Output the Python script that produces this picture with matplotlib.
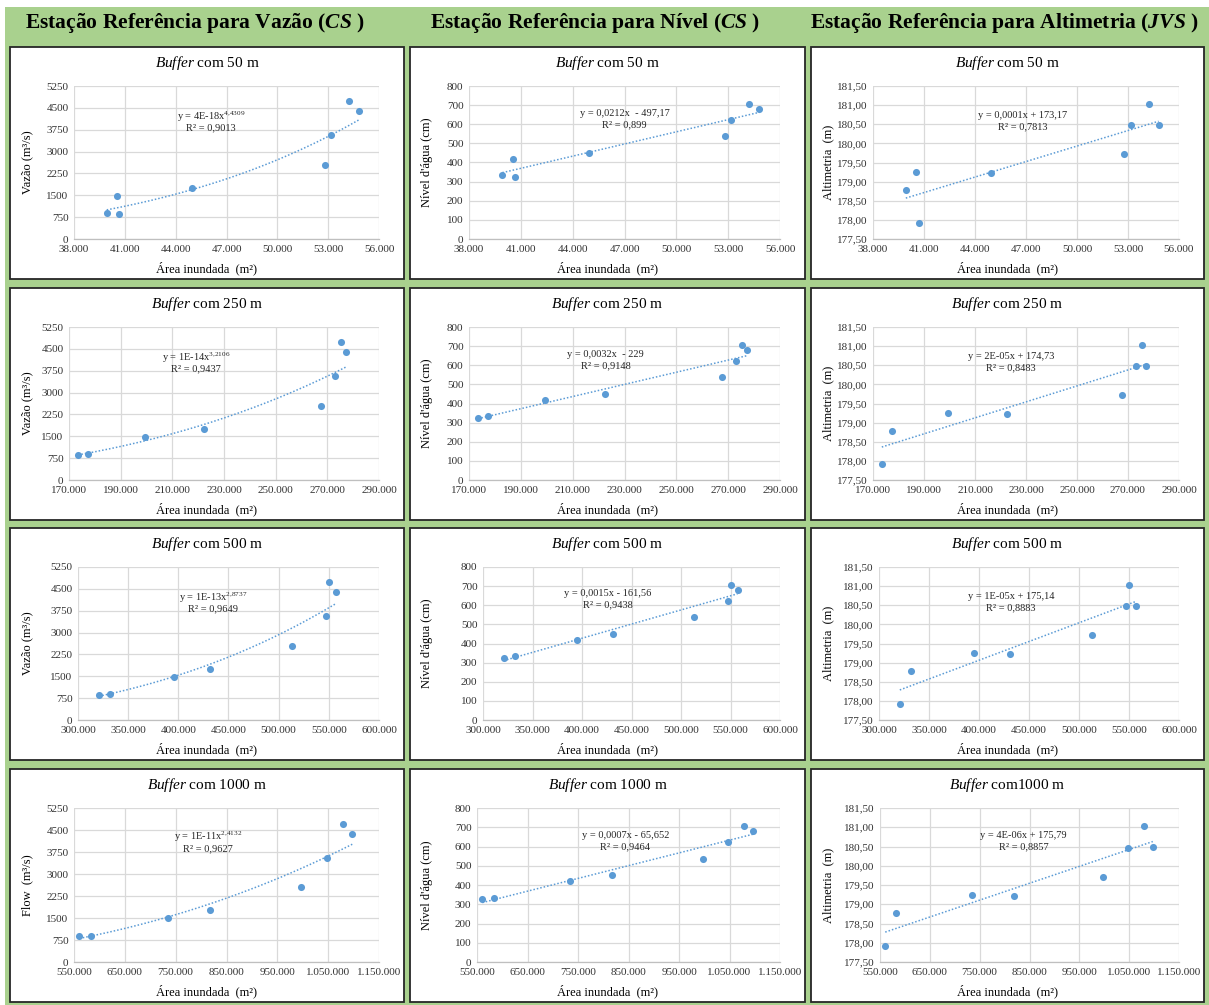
import matplotlib
matplotlib.use("Agg")
import matplotlib.pyplot as plt
import numpy as np
from matplotlib.patches import Rectangle
from matplotlib.ticker import FuncFormatter, FixedLocator

plt.rcParams["font.family"] = "Liberation Serif"
plt.rcParams["mathtext.fontset"] = "custom"
plt.rcParams["mathtext.rm"] = "Liberation Serif"
plt.rcParams["mathtext.it"] = "Liberation Serif:italic"
plt.rcParams["mathtext.bf"] = "Liberation Serif:bold"
plt.rcParams["mathtext.bfit"] = "Liberation Serif:italic:bold"

# values per station (same 8 stations in every panel)
vazao = [870, 900, 1490, 1760, 2540, 3560, 4720, 4380]
nivel = [325, 335, 420, 452, 537, 624, 707, 682]
altimetria = [177.91, 178.78, 179.25, 179.22, 179.72, 180.47, 181.04, 180.49]

# flooded area (m2) for each buffer
area_50 = [40680, 39930, 40530, 44940, 52790, 53150, 54230, 54800]
area_250 = [173450, 177400, 199400, 222400, 267700, 273100, 275300, 277200]
area_500 = [320800, 332100, 395400, 431200, 513300, 547400, 550100, 557100]
area_1000 = [560500, 582900, 735100, 818100, 997300, 1047400, 1079700, 1097400]

areas = [area_50, area_250, area_500, area_1000]
buffer_titles = [r"$\mathit{Buffer}$ com 50 m", r"$\mathit{Buffer}$ com 250 m",
                 r"$\mathit{Buffer}$ com 500 m", r"$\mathit{Buffer}$ com 1000 m"]
x_ranges = [(38000, 56000, 3000), (170000, 290000, 20000),
            (300000, 600000, 50000), (550000, 1150000, 100000)]

headers = [r"Estação Referência para Vazão ($\mathbfit{CS}$ )",
           r"Estação Referência para Nível ($\mathbfit{CS}$ )",
           r"Estação Referência para Altimetria ($\mathbfit{JVS}$ )"]
series = [vazao, nivel, altimetria]
y_ranges = [(0, 5250, 750), (0, 800, 100), (177.5, 181.5, 0.5)]
y_labels = [["Vazão (m³/s)", "Vazão (m³/s)", "Vazão (m³/s)", "Flow  (m³/s)"],
            ["Nível d'água (cm)"] * 4,
            ["Altimetria  (m)"] * 4]

equations = [
    [r"y = 4E-18x$^{4{,}4309}$", "y = 0,0212x  - 497,17", "y = 0,0001x + 173,17"],
    [r"y = 1E-14x$^{3{,}2106}$", "y = 0,0032x  - 229", "y = 2E-05x + 174,73"],
    [r"y = 1E-13x$^{2{,}8737}$", "y = 0,0015x - 161,56", "y = 1E-05x + 175,14"],
    [r"y = 1E-11x$^{2{,}4132}$", "y = 0,0007x - 65,652", "y = 4E-06x + 175,79"],
]
r2 = [["0,9013", "0,899", "0,7813"],
      ["0,9437", "0,9148", "0,8483"],
      ["0,9649", "0,9438", "0,8883"],
      ["0,9627", "0,9464", "0,8857"]]
last_title = r"$\mathit{Buffer}$ com1000 m"

W, H = 1209, 1005
BLUE = "#5b9bd5"
GREEN = "#a9d18e"

box_x = [(10, 404), (410, 805), (811, 1204)]
box_y = [(47, 279), (288, 520), (528, 760), (769, 1002)]
ax_left = [[74, 469, 873], [69, 469, 873], [78, 483, 879], [74, 477, 880]]
eq_pos = [[(0.45, 0.80), (0.50, 0.82), (0.49, 0.81)],
          [(0.41, 0.80), (0.44, 0.82), (0.45, 0.81)],
          [(0.45, 0.80), (0.42, 0.83), (0.44, 0.81)],
          [(0.44, 0.81), (0.49, 0.82), (0.48, 0.82)]]


def fx(x):
    return x / W


def fy(y):
    return 1 - y / H


fig = plt.figure(figsize=(W / 100, H / 100), dpi=100)
fig.patches.append(Rectangle((fx(5), 0), fx(W - 5), 1 - 7 / H, transform=fig.transFigure,
                             facecolor=GREEN, edgecolor="none", zorder=0))

hdr_x = [195, 595, 1004]
for c in range(3):
    fig.text(fx(hdr_x[c]), fy(23), headers[c], ha="center", va="center",
             fontsize=15.5, fontweight="bold")

x_fmt = FuncFormatter(lambda v, p: f"{int(round(v)):,}".replace(",", "."))
y_fmts = [FuncFormatter(lambda v, p: f"{int(round(v))}"),
          FuncFormatter(lambda v, p: f"{int(round(v))}"),
          FuncFormatter(lambda v, p: f"{v:.2f}".replace(".", ","))]

for r in range(4):
    for c in range(3):
        bx0, bx1 = box_x[c]
        by0, by1 = box_y[r]
        fig.patches.append(Rectangle((fx(bx0), fy(by1)), fx(bx1 - bx0), (by1 - by0) / H,
                                     transform=fig.transFigure, facecolor="white",
                                     edgecolor="#262626", linewidth=1.3, zorder=1))
        l = ax_left[r][c]
        rgt = bx1 - 25
        top = by0 + 39
        bot = by1 - 40
        ax = fig.add_axes([fx(l), fy(bot), fx(rgt - l), (bot - top) / H])
        ax.set_zorder(2)
        ax.patch.set_alpha(0)

        x = np.array(areas[r], dtype=float)
        y = np.array(series[c], dtype=float)
        xs = np.linspace(x.min(), x.max(), 200)
        if c == 0:
            b, loga = np.polyfit(np.log(x), np.log(y), 1)
            ys = np.exp(loga) * xs ** b
        else:
            m, k = np.polyfit(x, y, 1)
            ys = m * xs + k
        ax.plot(xs, ys, color=BLUE, linestyle=(0, (1, 1.3)), linewidth=1.1, zorder=3)
        ax.scatter(x, y, s=26, color=BLUE, zorder=4, linewidths=0)

        x0, x1, xst = x_ranges[r]
        y0, y1, yst = y_ranges[c]
        ax.set_xlim(x0, x1)
        ax.set_ylim(y0, y1)
        ax.xaxis.set_major_locator(FixedLocator(np.arange(x0, x1 + xst / 2, xst)))
        ax.yaxis.set_major_locator(FixedLocator(np.arange(y0, y1 + yst / 2, yst)))
        ax.xaxis.set_major_formatter(x_fmt)
        ax.yaxis.set_major_formatter(y_fmts[c])
        ax.grid(True, color="#d9d9d9", linewidth=0.9, zorder=0)
        ax.set_axisbelow(True)
        for s in ["top", "right", "left"]:
            ax.spines[s].set_visible(False)
        ax.spines["bottom"].set_color("#bfbfbf")
        ax.spines["bottom"].set_linewidth(0.9)
        ax.tick_params(length=0, labelsize=8, colors="#333333", pad=4)

        ax.text(eq_pos[r][c][0], eq_pos[r][c][1], equations[r][c], transform=ax.transAxes,
                ha="center", va="center", fontsize=7.5, color="#262626")
        ax.text(eq_pos[r][c][0], eq_pos[r][c][1] - 0.075, "R² = " + r2[r][c],
                transform=ax.transAxes, ha="center", va="center", fontsize=7.5,
                color="#262626")

        title = last_title if (r == 3 and c == 2) else buffer_titles[r]
        fig.text(fx((bx0 + bx1) / 2), fy(by0 + 16), title, ha="center", va="center",
                 fontsize=11)
        fig.text(fx((bx0 + bx1) / 2), fy(by1 - 11), "Área inundada  (m²)", ha="center",
                 va="center", fontsize=9)
        fig.text(fx(bx0 + 17), fy((top + bot) / 2), y_labels[c][r], ha="center",
                 va="center", rotation=90, fontsize=9)

fig.savefig("out.png", dpi=100)
